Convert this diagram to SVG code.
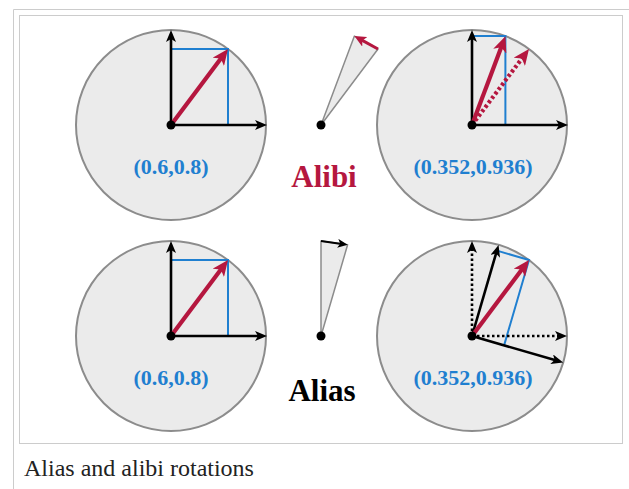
<svg xmlns="http://www.w3.org/2000/svg" width="629" height="489" viewBox="0 0 629 489">
<style>
.frame{fill:none;stroke:#cccccc;stroke-width:1}
.disk{fill:#ebebeb;stroke:#8c8c8c;stroke-width:2}
.wedge{fill:#ebebeb;stroke:#8c8c8c;stroke-width:1.5;stroke-linejoin:round}
.axis{fill:none;stroke:#000;stroke-width:2.6}
.daxis{fill:none;stroke:#000;stroke-width:2.6;stroke-dasharray:2.5 2.5}
.blue{fill:none;stroke:#1f7fd0;stroke-width:2}
.vec{fill:none;stroke:#b5173f;stroke-width:4.2}
.dvec{fill:none;stroke:#b5173f;stroke-width:4.2;stroke-dasharray:3 2.5}
.rot{fill:none;stroke:#b5173f;stroke-width:3}
.rotk{fill:none;stroke:#000;stroke-width:2}
.dot{fill:#000}
.coord{font-family:"Liberation Serif",serif;font-weight:bold;font-size:22px;fill:#1f7fd0;text-anchor:middle}
.big{font-family:"Liberation Serif",serif;font-weight:bold;font-size:31px;text-anchor:middle}
.cap{font-family:"Liberation Serif",serif;font-size:24px;fill:#222}
</style>
<defs>
<marker id="ak" markerUnits="userSpaceOnUse" markerWidth="12" markerHeight="10" refX="5" refY="5" orient="auto">
<path d="M0,0 L12,5 L0,10 L3,5 z" fill="#000"/>
</marker>
<marker id="ar" markerUnits="userSpaceOnUse" markerWidth="16" markerHeight="14" refX="6" refY="7" orient="auto">
<path d="M0,0 L16,7 L0,14 L4,7 z" fill="#b5173f"/>
</marker>
<marker id="ar2" markerUnits="userSpaceOnUse" markerWidth="12" markerHeight="11" refX="4" refY="5.5" orient="auto">
<path d="M0,0 L12,5.5 L0,11 L3,5.5 z" fill="#b5173f"/>
</marker>
<marker id="ak2" markerUnits="userSpaceOnUse" markerWidth="11" markerHeight="9" refX="4" refY="4.5" orient="auto">
<path d="M0,0 L10,4.5 L0,9 L2.5,4.5 z" fill="#000"/>
</marker>
</defs>
<rect width="629" height="489" fill="#fff"/>
<path class="frame" d="M13.5,489 V9.5 H629"/>
<rect class="frame" x="19.5" y="15.5" width="603" height="428" fill="#fff"/>

<g id="alibi-before">
<circle class="disk" cx="171" cy="125" r="95"/>
<path class="blue" d="M171,49 H228 V125"/>
<path class="axis" d="M171,125 V37" marker-end="url(#ak)"/>
<path class="axis" d="M171,125 H260" marker-end="url(#ak)"/>
<path class="vec" d="M171,125 L222,57" marker-end="url(#ar)"/>
<circle class="dot" cx="171" cy="125" r="4.5"/>
<text class="coord" x="171" y="174">(0.6,0.8)</text>
</g>

<g id="alibi-rotation">
<polygon class="wedge" points="321,125 378,49 354.4,36.1"/>
<path class="rot" d="M378,49 L361.4,39.9" marker-end="url(#ar2)"/>
<circle class="dot" cx="321" cy="125" r="4.5"/>
<text class="big" x="324" y="187" fill="#b5173f">Alibi</text>
</g>

<g id="alibi-after">
<circle class="disk" cx="472" cy="125" r="95"/>
<path class="blue" d="M472,36.1 H505.4 V125"/>
<path class="axis" d="M472,125 V37" marker-end="url(#ak)"/>
<path class="axis" d="M472,125 H561" marker-end="url(#ak)"/>
<path class="dvec" d="M472,125 L523,57" marker-end="url(#ar)"/>
<path class="vec" d="M472,125 L501.9,45.5" marker-end="url(#ar)"/>
<circle class="dot" cx="472" cy="125" r="4.5"/>
<text class="coord" x="473" y="174">(0.352,0.936)</text>
</g>

<g id="alias-before">
<circle class="disk" cx="171" cy="336" r="95"/>
<path class="blue" d="M171,260 H228 V336"/>
<path class="axis" d="M171,336 V248" marker-end="url(#ak)"/>
<path class="axis" d="M171,336 H260" marker-end="url(#ak)"/>
<path class="vec" d="M171,336 L222,268" marker-end="url(#ar)"/>
<circle class="dot" cx="171" cy="336" r="4.5"/>
<text class="coord" x="171" y="385">(0.6,0.8)</text>
</g>

<g id="alias-rotation">
<polygon class="wedge" points="321,336 321,241 347.6,244.8"/>
<path class="rotk" d="M321,241 L341.7,243.9" marker-end="url(#ak2)"/>
<circle class="dot" cx="321" cy="336" r="4.5"/>
<text class="big" x="322" y="401" fill="#000">Alias</text>
</g>

<g id="alias-after">
<circle class="disk" cx="472" cy="336" r="95"/>
<path class="blue" d="M496.9,250.6 L529,260 L504.1,345.4"/>
<path class="daxis" d="M472,336 V248" marker-end="url(#ak)"/>
<path class="daxis" d="M472,336 H560" marker-end="url(#ak)"/>
<path class="axis" d="M472,336 L496.6,251.6" marker-end="url(#ak)"/>
<path class="axis" d="M472,336 L556.5,360.6" marker-end="url(#ak)"/>
<path class="vec" d="M472,336 L523,268" marker-end="url(#ar)"/>
<circle class="dot" cx="472" cy="336" r="4.5"/>
<text class="coord" x="473" y="385">(0.352,0.936)</text>
</g>

<text class="cap" x="24" y="476">Alias and alibi rotations</text>
</svg>
